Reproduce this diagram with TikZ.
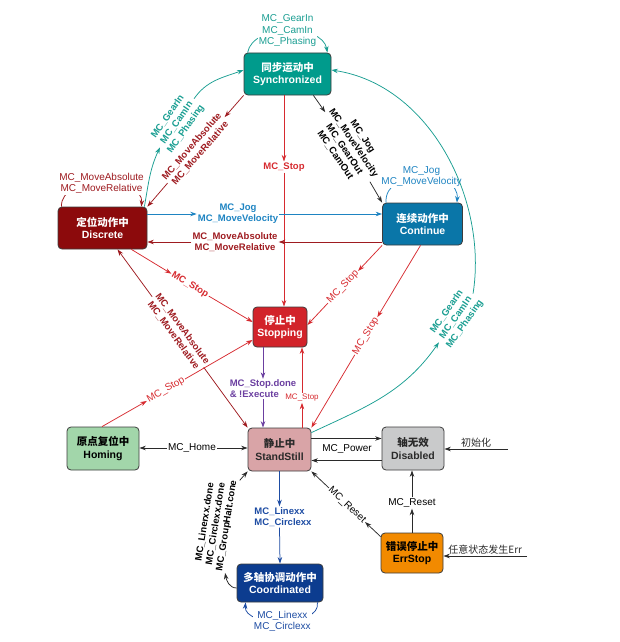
\documentclass[tikz,border=0pt]{standalone}
\usepackage{fontspec}
\setmainfont{Liberation Sans}
\newfontfamily\cjk{Noto Sans CJK SC}
\usetikzlibrary{arrows.meta}
\definecolor{mcsync}{HTML}{009B8C}
\definecolor{mcdisc}{HTML}{8C0A0C}
\definecolor{mccont}{HTML}{0A76A8}
\definecolor{mcstop}{HTML}{D2232A}
\definecolor{mcstand}{HTML}{D9A4A7}
\definecolor{mchome}{HTML}{A2D6AA}
\definecolor{mcdisab}{HTML}{C9CACB}
\definecolor{mcerr}{HTML}{F28A00}
\definecolor{mccoord}{HTML}{0C3C8F}
\definecolor{mcedge}{HTML}{3C3C3C}
\definecolor{mcteal}{HTML}{1A9E92}
\definecolor{mcdred}{HTML}{9E1B20}
\definecolor{mcred}{HTML}{D62A2F}
\definecolor{mcblue}{HTML}{1E84C2}
\definecolor{mcpurple}{HTML}{6B3FA0}
\definecolor{mcnavy}{HTML}{1D4CA3}
\definecolor{mcblack}{HTML}{2A2A2A}

\begin{document}
\begin{tikzpicture}[x=1pt, y=1pt,
  state/.style={draw=mcedge, line width=0.8pt, rounded corners=4pt, inner sep=0pt, align=center, font=\fontsize{10.5}{12.5}\selectfont\bfseries},
  lbl/.style={inner sep=1pt, align=center, font=\fontsize{10}{11.3}\selectfont},
  blbl/.style={lbl, font=\fontsize{9.5}{11}\selectfont\bfseries},
  arr/.style={-{Stealth[length=6.5pt,width=4.5pt]}, line width=0.75pt}]
  \useasboundingbox (0,0) rectangle (620,-642);

  \node[state, fill=mcsync, text=white, minimum width=87, minimum height=42] (sync) at (287.5,-74) {{\cjk 同步运动中}\\Synchronized};
  \node[state, fill=mcdisc, text=white, minimum width=89, minimum height=42] (disc) at (102.5,-228) {{\cjk 定位动作中}\\Discrete};
  \node[state, fill=mccont, text=white, minimum width=80, minimum height=42] (cont) at (422.5,-224) {{\cjk 连续动作中}\\Continue};
  \node[state, fill=mcstop, text=white, minimum width=54, minimum height=40] (stopping) at (280,-327) {{\cjk 停止中}\\Stopping};
  \node[state, fill=mcstand, text=mcblack, minimum width=63, minimum height=43] (stand) at (279.5,-449.5) {{\cjk 静止中}\\StandStill};
  \node[state, fill=mchome, text=black, minimum width=72, minimum height=43] (homing) at (103,-448.5) {{\cjk 原点复位中}\\Homing};
  \node[state, fill=mcdisab, text=mcblack, minimum width=62, minimum height=43] (disab) at (413,-448.5) {{\cjk 轴无效}\\Disabled};
  \node[state, fill=mcerr, text=black, minimum width=62, minimum height=40] (err) at (412,-553) {{\cjk 错误停止中}\\ErrStop};
  \node[state, fill=mccoord, text=white, minimum width=86, minimum height=38] (coord) at (280,-583) {{\cjk 多轴协调动作中}\\Coordinated};

  \draw[arr, mcteal] ([xshift=4]sync.north west) to[out=80,in=100,looseness=0.95] node[lbl, fill=white, text=mcteal] (lsyncloop) {MC\_GearIn\\MC\_CamIn\\MC\_Phasing} ([xshift=-4]sync.north east);

  \node[blbl, text=mcteal, rotate=55] (lgear) at (177,-123) {MC\_GearIn\\MC\_CamIn\\MC\_Phasing};
  \draw[arr, mcteal] ([xshift=-3]disc.north east) to[out=80,in=245] (lgear.west);
  \draw[arr, mcteal] (lgear.east) to[out=55,in=200] ([yshift=4]sync.west);

  \node[blbl, text=mcdred, rotate=49] (labsd) at (196,-150) {MC\_MoveAbsolute\\MC\_MoveRelative};
  \draw[arr, mcdred] (sync.south west) -- (labsd);
  \draw[arr, mcdred] (labsd) -- (disc.north east);

  \draw[arr, mcdred] ([xshift=4]disc.north west) to[out=95,in=85,looseness=1.0] node[lbl, fill=white, text=mcdred] (ldiscloop) {MC\_MoveAbsolute\\MC\_MoveRelative} ([xshift=-6]disc.north east);

  \node[blbl, text=mcred] (lss) at (284,-167) {MC\_Stop};
  \draw[arr, mcred] (sync.south -| lss) -- (lss);
  \draw[arr, mcred] (lss) -- (lss |- stopping.north);

  \node[blbl, rotate=-56] (lsc) at (349,-146) {MC\_Jog\\MC\_MoveVelocity\\MC\_GearOut\\MC\_CamOut};
  \draw[arr, mcblack] ([xshift=-18]sync.south east) -- (lsc);
  \draw[arr, mcblack] (lsc) -- (cont.north west);

  \draw[arr, mcblue] ([xshift=4]cont.north west) to[out=95,in=85,looseness=1.25] node[lbl, fill=white, text=mcblue] (lcontloop) {MC\_Jog\\MC\_MoveVelocity} ([xshift=-6]cont.north east);

  \node[blbl, text=mcblue] (ldc) at (238,-214) {MC\_Jog\\MC\_MoveVelocity};
  \draw[arr, mcblue] (disc.east |- ldc) -- (ldc);
  \draw[arr, mcblue] (ldc) -- (ldc -| cont.west);

  \node[blbl, text=mcdred] (lcd) at (235,-242) {MC\_MoveAbsolute\\MC\_MoveRelative};
  \draw[arr, mcdred] (cont.west |- lcd) -- (lcd);
  \draw[arr, mcdred] (lcd) -- (lcd -| disc.east);

  \node[blbl, text=mcred, rotate=-31] (lds) at (190,-285) {MC\_Stop};
  \draw[arr, mcred] ([xshift=-16]disc.south east) -- (lds);
  \draw[arr, mcred] (lds) -- ([yshift=5]stopping.west);

  \node[blbl, text=mcdred, rotate=-54] (lsd) at (178,-332) {MC\_MoveAbsolute\\MC\_MoveRelative};
  \draw[arr, mcdred] (lsd) -- ([xshift=15]disc.south);
  \draw[arr, mcdred] (lsd) -- (stand.north west);

  \node[lbl, text=mcred, rotate=30] (lhs) at (166,-390) {MC\_Stop};
  \draw[arr, mcred] ([xshift=-1]homing.north) -- (lhs);
  \draw[arr, mcred] (lhs) -- ([yshift=-13]stopping.west);

  \node[lbl, text=mcred, rotate=47] (lcs) at (343,-287) {MC\_Stop};
  \draw[arr, mcred] (cont.south west) -- (lcs);
  \draw[arr, mcred] (lcs) -- ([yshift=2]stopping.east);

  \node[lbl, text=mcred, rotate=59] (lct) at (366,-336) {MC\_Stop};
  \draw[arr, mcred] ([xshift=-2]cont.south) -- (lct);
  \draw[arr, mcred] (lct) -- (stand.north east);

  \node[blbl, text=mcteal, rotate=55] (lts) at (456,-318) {MC\_GearIn\\MC\_CamIn\\MC\_Phasing};
  \draw[arr, mcteal] ([yshift=-5]stand.north east) to[out=25,in=235] (lts.west);
  \draw[arr, mcteal] (lts.east) .. controls (488,-200) and (430,-85) .. ([yshift=4]sync.east);

  \node[lbl] (lhome) at (192,-448) {MC\_Home};
  \draw[arr, mcblack] (lhome) -- (lhome -| homing.east);
  \draw[arr, mcblack] (lhome) -- (lhome -| stand.west);

  \node[blbl, text=mcpurple, align=left] (lpur) at (263,-389) {MC\_Stop.done\\\& !Execute};
  \draw[arr, mcpurple] (lpur.north |- stopping.south) -- (lpur.north);
  \draw[arr, mcpurple] (lpur.south) -- (lpur.south |- stand.north);

  \node[lbl, text=mcred, font=\fontsize{8}{9}\selectfont] (lsts) at (302,-398) {MC\_Stop};
  \draw[arr, mcred] (lsts |- stand.north) -- (lsts.south);
  \draw[arr, mcred] (lsts.north) -- (lsts |- stopping.south);

  \node[lbl] (lpow) at (347,-449) {MC\_Power};
  \draw[arr, mcblack] ([yshift=11]stand.east) -- ([yshift=11]stand.east -| disab.west);
  \draw[arr, mcblack] ([yshift=-12]disab.west) -- ([yshift=-12]disab.west -| stand.east);

  \coordinate (initp) at (508,-449);
  \draw[arr, mcblack] (initp) -- node[lbl, above] (linit) {\cjk 初始化} (initp -| disab.east);

  \node[lbl] (lrst) at (412,-503) {MC\_Reset};
  \draw[arr, mcblack] (err) -- (lrst);
  \draw[arr, mcblack] (lrst) -- (lrst |- disab.south);

  \node[lbl, rotate=-43] (lrs2) at (347,-505) {MC\_Reset};
  \draw[arr, mcblack] ([yshift=-4]err.north west) -- (lrs2);
  \draw[arr, mcblack] (lrs2) -- (stand.south east);

  \coordinate (errp) at (527,-556);
  \draw[arr, mcblack] (errp) -- node[lbl, above] (lerr) {\cjk 任意状态发生Err} (errp -| err.east);

  \node[blbl, text=mcnavy, align=left] (llin) at (283,-517) {MC\_Linexx\\MC\_Circlexx};
  \draw[arr, mcnavy] (stand.south) -- (stand.south |- llin.north);
  \draw[arr, mcnavy] (stand.south |- llin.south) -- (coord.north);

  \draw[arr, mcnavy] ([xshift=-6]coord.south east) to[out=-80,in=-95,looseness=0.9] node[lbl, fill=white, text=mcnavy] (lcloop) {MC\_Linexx\\MC\_Circlexx} ([xshift=9]coord.south west);

  \node[blbl, rotate=81] (lcs2) at (216,-524) {MC\_Linerxx.done\\MC\_Circlexx.done\\MC\_GroupHalt.cone};
  \draw[arr, mcblack] ([yshift=-5]coord.west) to[out=180,in=280] (lcs2.south west);
  \draw[arr, mcblack] (lcs2.south east) -- (stand.south west);
\end{tikzpicture}
\end{document}
